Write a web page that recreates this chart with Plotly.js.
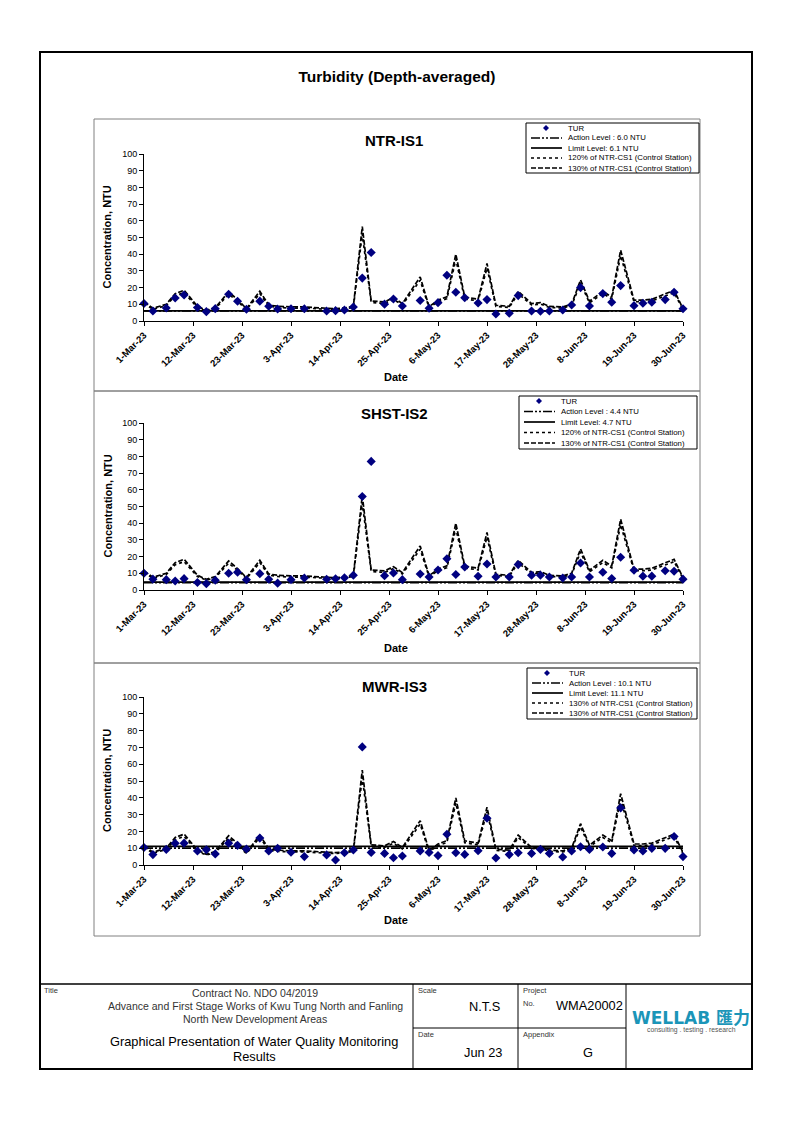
<!DOCTYPE html>
<html><head><meta charset="utf-8">
<script src="https://cdn.plot.ly/plotly-3.0.1.min.js"></script>
<style>html,body{margin:0;padding:0;background:#fff}#chart{width:794px;height:1123px}</style>
</head><body><div id="chart"></div>
<script>
// ---------------- DATA ----------------
const dates = [
 '2023-03-01','2023-03-03','2023-03-06','2023-03-08','2023-03-10','2023-03-13','2023-03-15','2023-03-17','2023-03-20','2023-03-22','2023-03-24','2023-03-27','2023-03-29','2023-03-31',
 '2023-04-03','2023-04-06','2023-04-11','2023-04-13','2023-04-15','2023-04-17','2023-04-19','2023-04-21','2023-04-24','2023-04-26','2023-04-28',
 '2023-05-02','2023-05-04','2023-05-06','2023-05-08','2023-05-10','2023-05-12','2023-05-15','2023-05-17','2023-05-19','2023-05-22','2023-05-24','2023-05-27','2023-05-29','2023-05-31',
 '2023-06-03','2023-06-05','2023-06-07','2023-06-09','2023-06-12','2023-06-14','2023-06-16','2023-06-19','2023-06-21','2023-06-23','2023-06-26','2023-06-28','2023-06-30'];

const turNTR_IS1 = [10.5,6,7.8,13.8,15.6,8.1,5.6,7.4,16,11.8,7,11.9,8.8,7.2,
 7.3,7.3,6,6.2,6.6,8.4,25.7,41,10.1,13.2,9,
 12.3,7.6,11,27.4,17.2,13.9,10.8,12.8,4.2,4.6,15.2,6,5.8,6,
 6.6,9.6,20,9,16.4,11.2,21.2,9.2,10.6,11.2,12.8,17.2,7.3];

const turSHST_IS2 = [10,6.5,6.2,5.4,6.8,4.5,3.8,5.8,10,10.6,6.1,9.8,6.4,4.1,
 6.2,7.2,6.4,6.7,7.3,8.8,56,77,8.6,10.2,6.2,
 9.6,7.8,12,18.7,9.3,13.8,8.2,15.6,7.8,7.8,15.2,8.9,8.9,7.8,
 7.2,7.8,16.2,7.8,10.6,6.9,19.6,11.8,8.3,8.3,11.5,11.2,6.5];

const turMWR_IS3 = [10.4,6.2,9.3,12.9,13,8.3,9.1,6.6,13,11.7,9.5,16,8.3,9.9,
 7.6,5,6,3,7.3,8.9,70.3,7.5,6.9,4.3,5.4,
 8.4,7.5,5.6,18.3,7.3,6.3,8.5,27.8,4.2,6.2,7.3,6.9,9.3,6.9,
 4.8,8.3,10.9,9.3,10.7,6.9,34,9,8.3,9.9,9.9,17,5];

// 130% of NTR-CS1 (control station)
const ctrl130 = [11.4,7.6,10,16.4,18.4,8.8,6.4,8,17.4,12.8,7.4,17.8,9.6,8.8,
 8.4,8.4,7.6,7.4,7.8,8.8,56.5,12,11.4,14,10.4,
 26.4,8.6,12.5,14.5,40,14.4,13,34.4,9.4,8.8,17.8,10.4,11,8.8,
 8.4,10,24.6,11.8,17.8,14.4,42.4,12.5,12.5,13,16,18.4,7.4];
const ctrl120 = ctrl130.map(v => v * 120 / 130);

const stations = ['NTR-IS1','SHST-IS2','MWR-IS3'];
const turSeries = [turNTR_IS1, turSHST_IS2, turMWR_IS3];
const actionLevels = [6.0, 4.4, 10.1];
const limitLevels = [6.1, 4.7, 11.1];
const ctrlLabels = [
 ['120% of NTR-CS1 (Control Station)','130% of NTR-CS1 (Control Station)'],
 ['120% of NTR-CS1 (Control Station)','130% of NTR-CS1 (Control Station)'],
 ['130% of NTR-CS1 (Control Station)','130% of NTR-CS1 (Control Station)']];

const tickDates = ['2023-03-01','2023-03-12','2023-03-23','2023-04-03','2023-04-14','2023-04-25','2023-05-06','2023-05-17','2023-05-28','2023-06-08','2023-06-19','2023-06-30'];
const tickLabels = ['1-Mar-23','12-Mar-23','23-Mar-23','3-Apr-23','14-Apr-23','25-Apr-23','6-May-23','17-May-23','28-May-23','8-Jun-23','19-Jun-23','30-Jun-23'];

// ---------------- LAYOUT HELPERS ----------------
const W = 794, H = 1123;
const F = 'Liberation Sans, Arial, Helvetica, sans-serif';
const px = x => x / W, py = y => 1 - y / H;
const NAVY = '#000080';
const DASH_ACTION = '9px,2px,2px,2px,2px,2px';

const panels = [
 {box:[94,119,700,391], y100:154, y0:321, title:140, xt:377, leg:[526,123,699,173], ly:[128,138,148,158,168]},
 {box:[94,391,700,663], y100:423, y0:590, title:413, xt:648, leg:[519,396,697,449], ly:[401,411.5,422,432.5,443]},
 {box:[94,663,700,936], y100:697, y0:865, title:686, xt:920, leg:[527,668,697,719], ly:[673,683,693,703,713]}
];
const X0 = 144, X1 = 683;

const traces = [], shapes = [], annotations = [];
const layout = {
  width: W, height: H, margin: {l:0, r:0, t:0, b:0},
  paper_bgcolor: '#fff', plot_bgcolor: 'rgba(0,0,0,0)',
  showlegend: false, font: {family: F, color: '#000'},
  title: {text: '<b>Turbidity (Depth-averaged)</b>', x: px(397), y: py(77), xref: 'paper', yref: 'paper',
          xanchor: 'center', yanchor: 'middle', font: {family: F, size: 15.5, color: '#000'}},
  shapes: shapes, annotations: annotations
};

function rect(x0,y0,x1,y1,color,width){
  shapes.push({type:'rect',xref:'paper',yref:'paper',x0:px(x0),x1:px(x1),y0:py(y1),y1:py(y0),
    line:{color:color,width:width},fillcolor:'rgba(0,0,0,0)',layer:'above'});
}
function seg(x0,y0,x1,y1,color,width,dash){
  shapes.push({type:'line',xref:'paper',yref:'paper',x0:px(x0),x1:px(x1),y0:py(y0),y1:py(y1),
    line:{color:color,width:width,dash:dash||'solid'},layer:'above'});
}
function txt(x,y,s,size,opt){
  opt = opt || {};
  annotations.push({xref:'paper',yref:'paper',x:px(x),y:py(y),text:s,showarrow:false,
    xanchor:opt.xa||'center',yanchor:opt.ya||'middle',textangle:opt.angle||0,
    font:{family:opt.family||F,size:size,color:opt.color||'#000',weight:opt.weight||'normal'}});
}

// ---------------- PANELS ----------------
panels.forEach((p, i) => {
  const ax = i === 0 ? '' : String(i + 1);
  const xa = 'x' + ax, ya = 'y' + ax;
  const first = dates[0], last = dates[dates.length - 1];
  traces.push({x:dates, y:ctrl120, xaxis:xa, yaxis:ya, mode:'lines', hoverinfo:'skip',
    line:{color:'#000',width:1.7,dash:'dot'}, name:ctrlLabels[i][0]});
  traces.push({x:dates, y:ctrl130, xaxis:xa, yaxis:ya, mode:'lines', hoverinfo:'skip',
    line:{color:'#000',width:1.7,dash:'5px,2px'}, name:ctrlLabels[i][1]});
  traces.push({x:[first,last], y:[actionLevels[i],actionLevels[i]], xaxis:xa, yaxis:ya, mode:'lines',
    line:{color:'#000',width:1.7,dash:DASH_ACTION}, name:'Action Level'});
  traces.push({x:[first,last], y:[limitLevels[i],limitLevels[i]], xaxis:xa, yaxis:ya, mode:'lines',
    line:{color:'#000',width:1.7}, name:'Limit Level'});
  traces.push({x:dates, y:turSeries[i], xaxis:xa, yaxis:ya, mode:'markers', name:'TUR', cliponaxis:false,
    marker:{symbol:'diamond', size:7, color:NAVY, line:{width:0}}});

  layout['xaxis' + ax] = {domain:[px(X0), px(X1)], anchor:ya, type:'date', range:[first,last],
    tickmode:'array', tickvals:tickDates, ticktext:tickLabels, tickangle:-45,
    tickfont:{family:F,size:9.5,color:'#000',weight:'bold'},
    showline:true, linecolor:'#000', linewidth:1, ticks:'outside', ticklen:4, tickcolor:'#000', tickwidth:1,
    showgrid:false, zeroline:false, automargin:false, fixedrange:true};
  layout['yaxis' + ax] = {domain:[py(p.y0), py(p.y100)], anchor:xa, range:[0,100], dtick:10, tick0:0,
    tickfont:{family:F,size:9,color:'#000'},
    showline:true, linecolor:'#000', linewidth:1, ticks:'outside', ticklen:4, tickcolor:'#000', tickwidth:1,
    showgrid:false, zeroline:false, automargin:false, fixedrange:true};

  // panel frame
  rect(p.box[0], p.box[1], p.box[2], p.box[3], '#808080', 1);
  // titles
  txt(394, p.title, '<b>' + stations[i] + '</b>', 15);
  txt(107, (p.y0 + p.y100) / 2, '<b>Concentration, NTU</b>', 11, {angle:-90});
  txt(396, p.xt, '<b>Date</b>', 11);

  // legend (drawn)
  const L = p.leg;
  rect(L[0], L[1], L[2], L[3], '#000', 1);
  const ls = L[0] + 5, le = L[0] + 36, tx = L[0] + 40, cx = L[0] + 20;
  const labels = ['TUR', 'Action Level : ' + actionLevels[i].toFixed(1) + ' NTU',
    'Limit Level: ' + limitLevels[i].toFixed(1) + ' NTU', ctrlLabels[i][0], ctrlLabels[i][1]];
  const d = 3, cy = p.ly[0];
  shapes.push({type:'path', xref:'paper', yref:'paper', layer:'above', fillcolor:NAVY, line:{width:0},
    path:'M'+px(cx)+','+py(cy-d)+' L'+px(cx+d)+','+py(cy)+' L'+px(cx)+','+py(cy+d)+' L'+px(cx-d)+','+py(cy)+' Z'});
  seg(ls, p.ly[1], le, p.ly[1], '#000', 1.7, DASH_ACTION);
  seg(ls, p.ly[2], le, p.ly[2], '#000', 1.7, 'solid');
  seg(ls, p.ly[3], le, p.ly[3], '#000', 1.7, 'dot');
  seg(ls, p.ly[4], le, p.ly[4], '#000', 1.7, '5px,2px');
  labels.forEach((s, k) => txt(tx, p.ly[k], s, 7.8, {xa:'left'}));
});

// ---------------- PAGE FRAME & TITLE BLOCK ----------------
rect(40, 52, 752, 1069, '#000', 2);
seg(40, 984, 752, 984, '#000', 1.5);
seg(413, 984, 413, 1069, '#000', 1);
seg(518, 984, 518, 1069, '#000', 1);
seg(626, 984, 626, 1069, '#000', 1);
seg(413, 1028, 626, 1028, '#000', 1);

const G = '#333';
txt(42, 990, 'Title', 7.5, {xa:'left', color:G});
txt(255, 993, 'Contract No. NDO 04/2019', 10.5, {color:G});
txt(255, 1006, 'Advance and First Stage Works of Kwu Tung North and Fanling', 10.5, {color:G});
txt(255, 1019, 'North New Development Areas', 10.5, {color:G});
txt(254, 1041, 'Graphical Presentation of Water Quality Monitoring', 12.8);
txt(254, 1056, 'Results', 12.8);
txt(416, 990, 'Scale', 7.5, {xa:'left', color:G});
txt(484, 1006, 'N.T.S', 12.8);
txt(416, 1034, 'Date', 7.5, {xa:'left', color:G});
txt(483, 1052, 'Jun 23', 12.8);
txt(521, 990, 'Project', 7.5, {xa:'left', color:G});
txt(521, 1003, 'No.', 7.5, {xa:'left', color:G});
txt(589, 1005, 'WMA20002', 12.8);
txt(521, 1034, 'Appendix', 7.5, {xa:'left', color:G});
txt(588, 1052, 'G', 12.8);
txt(691, 1018, 'WELLAB 匯力', 17, {color:'#1b95b8', weight:'bold', family:'DejaVu Sans, Noto Sans CJK TC, sans-serif'});
txt(691, 1030, 'consulting . testing . research', 6.8, {color:'#555'});

Plotly.newPlot('chart', traces, layout, {displayModeBar:false, staticPlot:true});
</script>
</body></html>
